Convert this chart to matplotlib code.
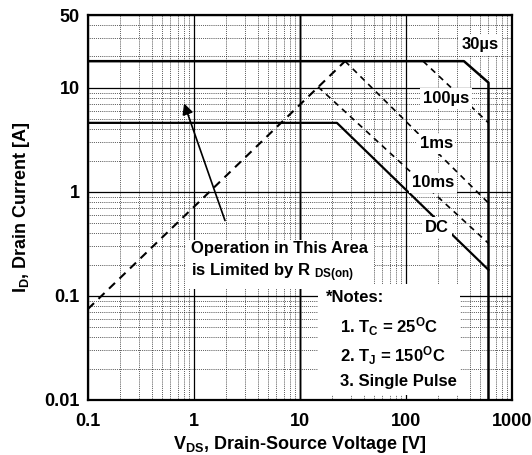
import matplotlib
matplotlib.use("Agg")
import matplotlib.pyplot as plt
from matplotlib.ticker import FixedLocator, NullFormatter, LogLocator
from matplotlib.patches import Rectangle

plt.rcParams['font.family'] = ['Liberation Sans', 'DejaVu Sans']
plt.rcParams['font.weight'] = 'bold'
plt.rcParams['mathtext.fontset'] = 'custom'
plt.rcParams['mathtext.rm'] = 'Liberation Sans:bold'
plt.rcParams['mathtext.it'] = 'Liberation Sans:bold'
plt.rcParams['mathtext.bf'] = 'Liberation Sans:bold'

# Data
rds_v = [0.1, 26.6]
rds_i = [0.075, 18.0]
us30_v = [0.1, 352, 600, 600]
us30_i = [18.0, 18.0, 11.2, 0.01]
us100_v = [145, 600]
us100_i = [18.0, 4.6]
ms1_v = [26.6, 600]
ms1_i = [18.0, 0.78]
ms10_v = [14.8, 600]
ms10_i = [10.2, 0.32]
dc_v = [0.1, 22.3, 600]
dc_i = [4.6, 4.6, 0.178]

x_ticks = [0.1, 1, 10, 100, 1000]
x_ticklabels = ['0.1', '1', '10', '100', '1000']
y_ticks = [0.01, 0.1, 1, 10, 50]
y_ticklabels = ['0.01', '0.1', '1', '10', '50']

notes = ['*Notes:', '1. T$_C$ = 25$^\\mathrm{O}$C', '2. T$_J$ = 150$^\\mathrm{O}$C', '3. Single Pulse']

fig = plt.figure(figsize=(5.32, 4.55), dpi=100)
ax = fig.add_axes([88/532, 1-400/455, 424/532, 385/455])
ax.set_xscale('log')
ax.set_yscale('log')
ax.set_xlim(0.1, 1000)
ax.set_ylim(0.01, 50)

ax.xaxis.set_major_locator(FixedLocator(x_ticks))
ax.yaxis.set_major_locator(FixedLocator(y_ticks))
ax.set_xticklabels(x_ticklabels)
ax.set_yticklabels(y_ticklabels)
ax.xaxis.set_minor_locator(LogLocator(base=10, subs=range(2, 10), numticks=20))
ax.yaxis.set_minor_locator(LogLocator(base=10, subs=range(2, 10), numticks=20))
ax.xaxis.set_minor_formatter(NullFormatter())
ax.yaxis.set_minor_formatter(NullFormatter())
ax.tick_params(which='both', length=0)
ax.tick_params(axis='both', labelsize=13)
ax.tick_params(axis='y', pad=6)
ax.tick_params(axis='x', pad=9)
for lab in ax.get_xticklabels() + ax.get_yticklabels():
    lab.set_fontweight('bold')

ax.grid(which='minor', color='black', linestyle=(0, (1, 1.5)), linewidth=0.55)
ax.grid(which='major', color='black', linestyle='-', linewidth=0.9)
ax.axvline(10, color='#808080', linewidth=1.8, zorder=1.5)
for sp in ax.spines.values():
    sp.set_linewidth(1.6)

ax.plot(rds_v, rds_i, color='black', linestyle=(0, (4, 3)), linewidth=1.5, zorder=3)
ax.plot(us30_v, us30_i, color='black', linewidth=1.8, zorder=3)
ax.plot(us100_v, us100_i, color='black', linestyle=(0, (3.5, 3)), linewidth=1.2, zorder=3)
ax.plot(ms1_v, ms1_i, color='black', linestyle=(0, (3.5, 3)), linewidth=1.2, zorder=3)
ax.plot(ms10_v, ms10_i, color='black', linestyle=(0, (3.5, 3)), linewidth=1.2, zorder=3)
ax.plot(dc_v, dc_i, color='black', linewidth=1.6, zorder=3)

wb = dict(facecolor='white', edgecolor='none', pad=2)
ax.text(0.9252, 0.9225, '30µs', transform=ax.transAxes, fontsize=12, ha='center', va='center', bbox=wb, zorder=4)
ax.text(0.845, 0.7835, '100µs', transform=ax.transAxes, fontsize=12, ha='center', va='center', bbox=wb, zorder=4)
ax.text(0.821, 0.665, '1ms', transform=ax.transAxes, fontsize=12, ha='center', va='center', bbox=wb, zorder=4)
ax.text(0.814, 0.564, '10ms', transform=ax.transAxes, fontsize=12, ha='center', va='center', bbox=wb, zorder=4)
ax.text(0.823, 0.448, 'DC', transform=ax.transAxes, fontsize=12, ha='center', va='center', bbox=wb, zorder=4)

ax.text(0.243, 0.357, 'Operation in This Area\nis Limited by R $_{DS(on)}$', transform=ax.transAxes,
        fontsize=12, ha='left', va='center', linespacing=1.35,
        bbox=dict(facecolor='white', edgecolor='none', pad=4), zorder=4)

ax.add_patch(Rectangle((0.542, 0.012), 0.335, 0.29, transform=ax.transAxes,
                       facecolor='white', edgecolor='none', zorder=3.5))
note_x = [0.561, 0.594, 0.594, 0.594]
note_y = [0.265, 0.190, 0.114, 0.047]
for t, nx, ny in zip(notes, note_x, note_y):
    ax.text(nx, ny, t, transform=ax.transAxes, fontsize=12, ha='left', va='center', zorder=4)

ax.annotate('', xy=(0.79, 7.5), xytext=(2.0, 0.5),
            arrowprops=dict(arrowstyle='-|>', color='black', lw=1.2, mutation_scale=16), zorder=5)

ax.set_xlabel('V$_{DS}$, Drain-Source Voltage [V]', fontsize=13, fontweight='bold', labelpad=3)
ax.set_ylabel('I$_D$, Drain Current [A]', fontsize=13, fontweight='bold', labelpad=9)

fig.savefig('out.png', dpi=100)
